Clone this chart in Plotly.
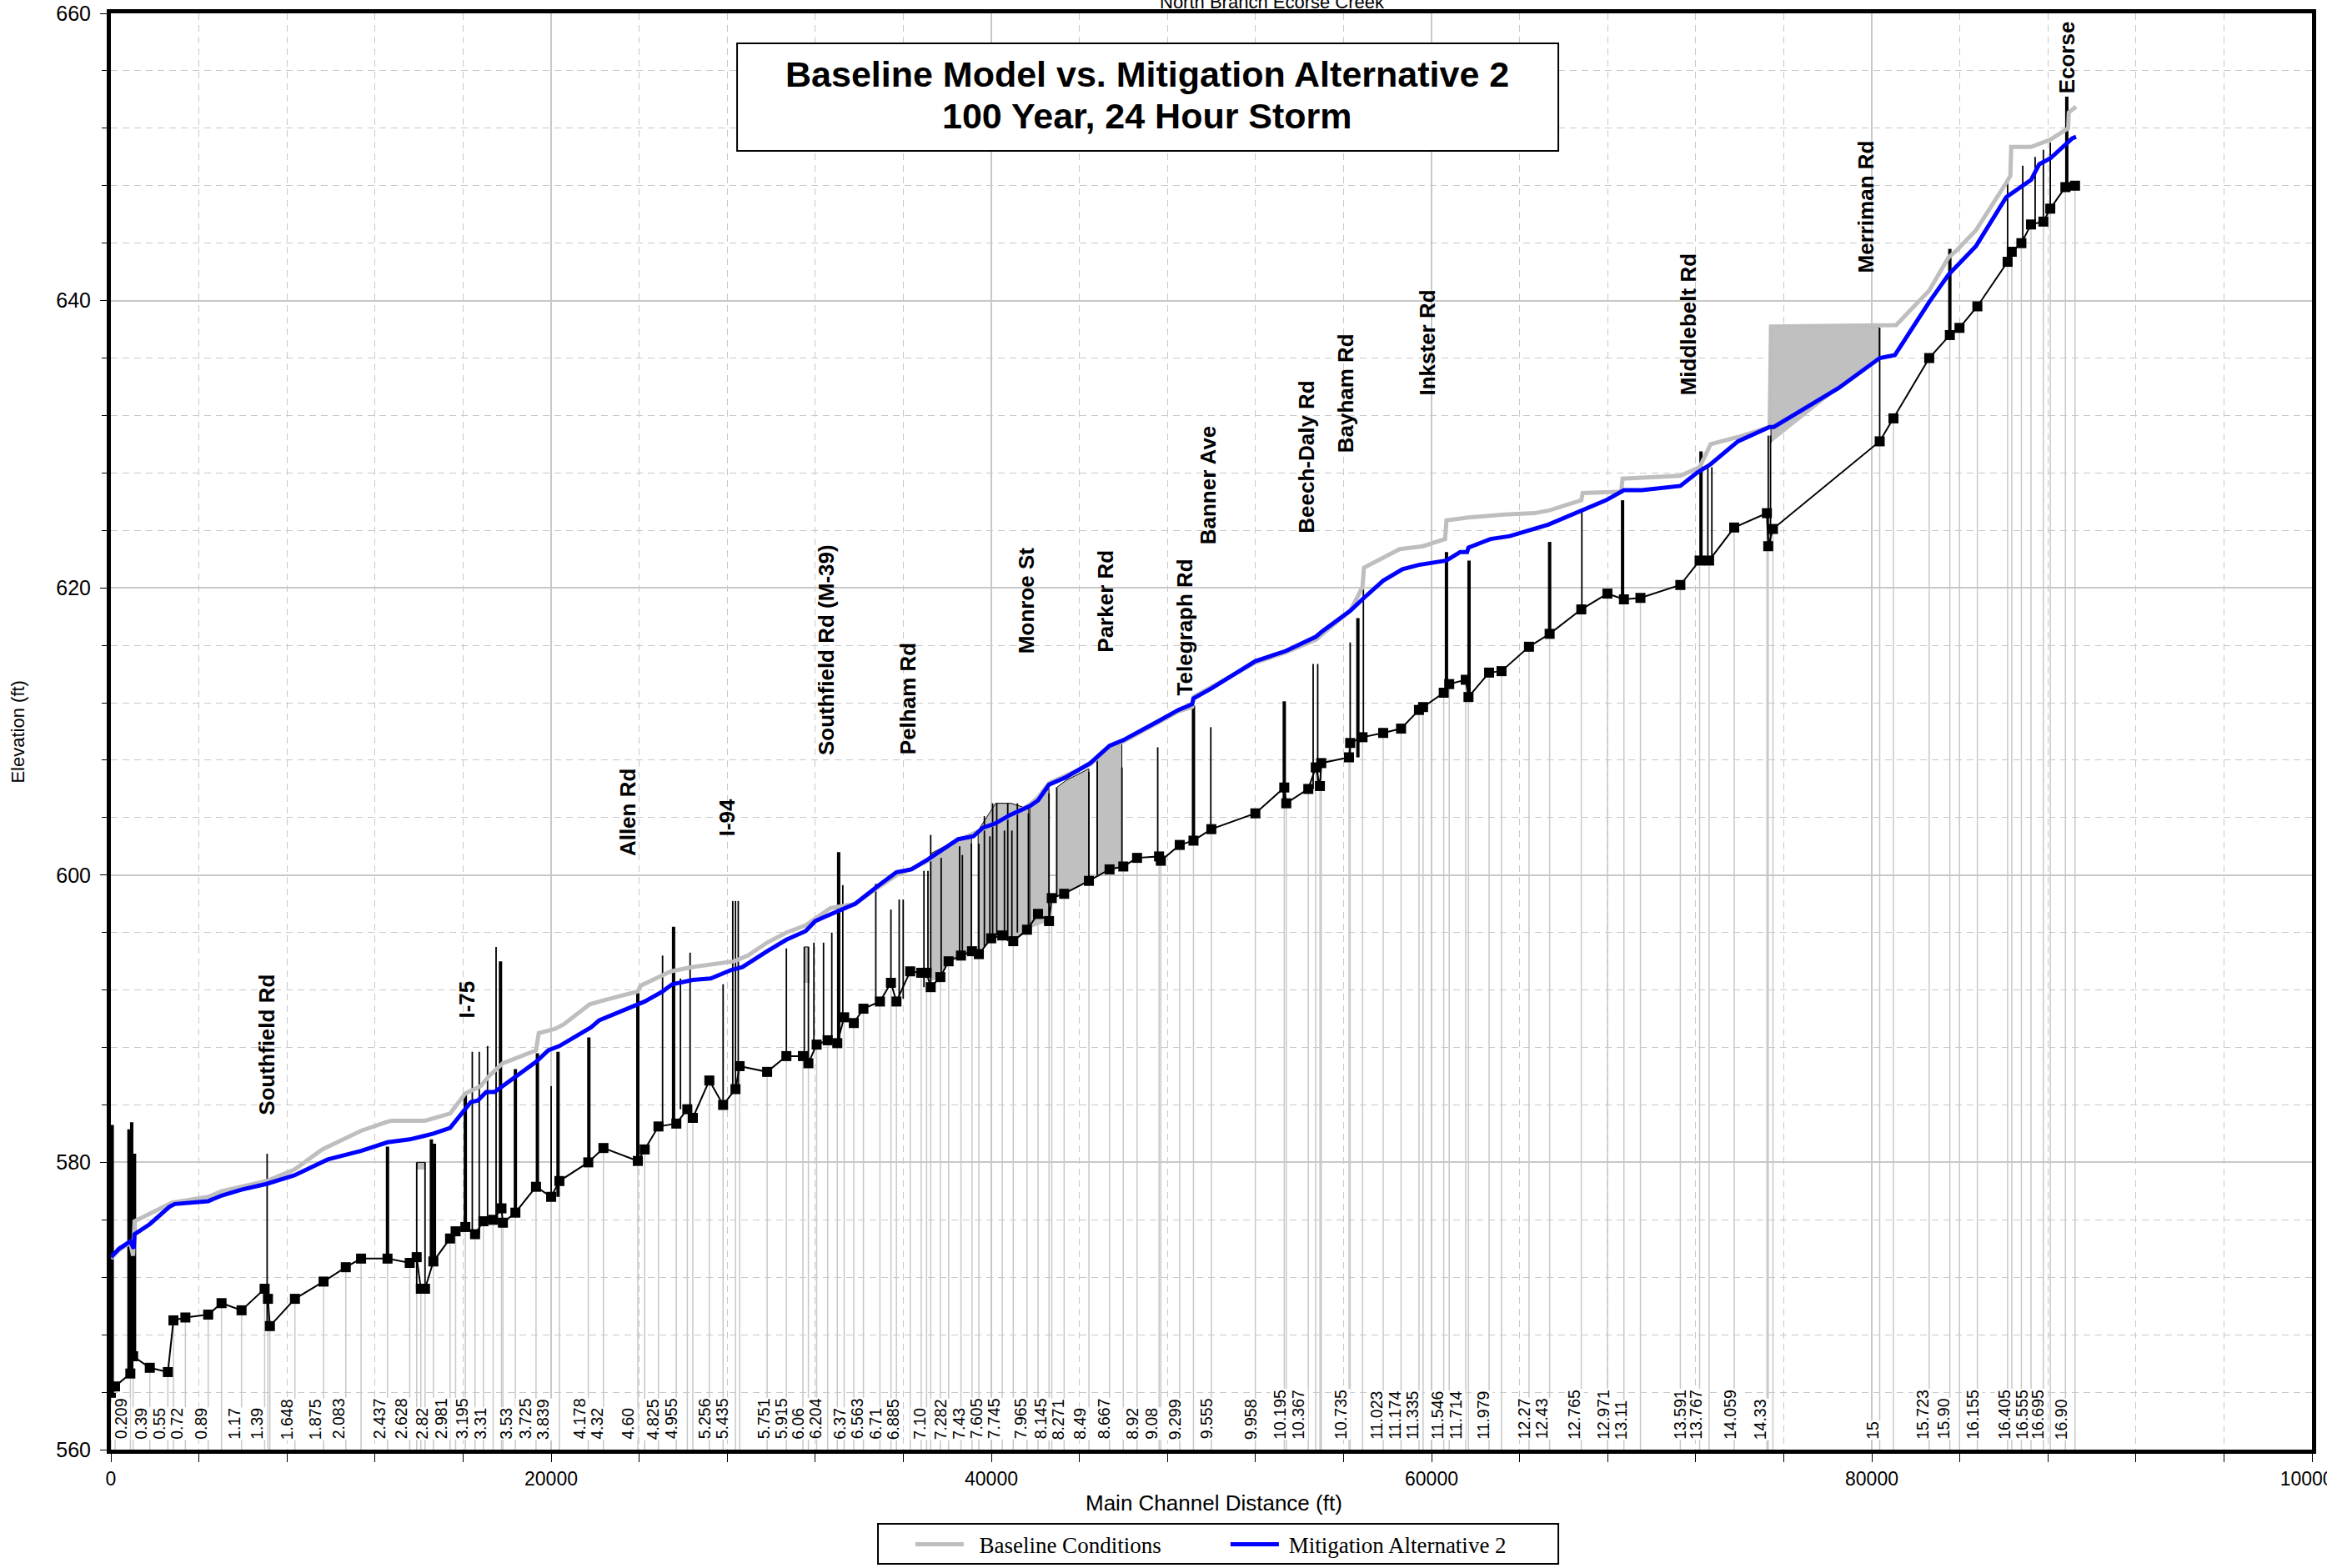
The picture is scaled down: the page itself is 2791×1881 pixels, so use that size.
import plotly.graph_objects as go

# channel invert at each cross section (ft, ft)
invert_x = [0, 190, 884, 1010, 1768, 2589, 2842, 3385, 4421, 5027, 5936, 6984, 7136, 7224, 8361, 9662,
            10672, 11367, 12567, 13577, 13893, 14082, 14272, 14651, 15409, 15661, 16103, 16545, 16924,
            17366, 17745, 17810, 18377, 19314, 20002, 20377, 21689, 22377, 23939, 24252, 24877, 25689,
            26189, 26439, 27189, 27814, 28377, 28564, 29814, 30689, 31439, 31689, 32064, 32564, 33002,
            33314, 33752, 34189, 34939, 35439, 35689, 36314, 36814, 37059, 37246, 37684, 38059, 38621,
            39121, 39434, 39996, 40496, 40996, 41621, 42121, 42621, 42746, 43309, 44434, 45371, 45996,
            46621, 47621, 47700, 48559, 49184, 49996, 51996, 53309, 53400, 54400, 54740, 54928, 54990,
            56250, 56303, 56865, 57803, 58615, 59428, 59615, 60553, 60803, 61553, 61678, 62615, 63178,
            64428, 65365, 66803, 67990, 68740, 69490, 71303, 72178, 72610, 73750, 75235, 75297, 75510,
            80360, 80985, 82610, 83547, 83985, 84797, 86172, 86360, 86797, 87235, 87797, 88110, 88797,
            89235]
invert_y = [563.6, 564.4, 565.3, 566.5, 565.7, 565.4, 569.0, 569.2, 569.4, 570.2, 569.7, 571.2, 570.5,
            568.6, 570.5, 571.7, 572.7, 573.3, 573.3, 573.0, 573.4, 571.2, 571.2, 573.1, 574.7, 575.2,
            575.5, 575.0, 575.9, 576.0, 576.8, 575.8, 576.5, 578.3, 577.6, 578.7, 580.0, 581.0, 580.1,
            580.9, 582.5, 582.7, 583.7, 583.1, 585.7, 584.0, 585.1, 586.7, 586.3, 587.4, 587.4, 586.9,
            588.2, 588.5, 588.3, 590.1, 589.7, 590.7, 591.2, 592.5, 591.2, 593.3, 593.2, 593.2, 592.2,
            592.9, 594.0, 594.4, 594.7, 594.5, 595.6, 595.8, 595.4, 596.2, 597.3, 596.8, 598.4, 598.7,
            599.6, 600.4, 600.6, 601.2, 601.3, 601.0, 602.1, 602.4, 603.2, 604.3, 606.1, 605.0, 606.0,
            607.5, 606.2, 607.8, 608.2, 609.2, 609.6, 609.9, 610.2, 611.5, 611.7, 612.7, 613.3, 613.6,
            612.4, 614.1, 614.2, 615.9, 616.8, 618.5, 619.6, 619.2, 619.3, 620.2, 621.9, 621.9, 624.2,
            625.2, 622.9, 624.1, 630.2, 631.8, 636.0, 637.6, 638.1, 639.6, 642.7, 643.4, 644.0, 645.3,
            645.5, 646.4, 647.9, 648.0]

# water surface, baseline conditions
baseline_x = [0, 380, 884, 1010, 1074, 1895, 2779, 4421, 5052, 7073, 8336, 9599, 11367, 12504, 12756,
              14272, 15409, 16103, 16798, 17177, 17808, 18314, 19314, 19439, 20189, 20564, 21752, 22439,
              23939, 24064, 25439, 26439, 27439, 28314, 28939, 29814, 30689, 31564, 32689, 33814, 34814,
              35689, 36314, 37121, 38496, 39621, 40871, 41746, 42121, 42621, 43371, 44496, 45371, 45996,
              47559, 48496, 49121, 49184, 49996, 51996, 53371, 54184, 54746, 55053, 56303, 56678, 56865,
              56928, 58553, 59615, 60615, 60678, 61678, 63303, 64678, 65365, 66803, 66865, 68615, 68678,
              71303, 72178, 72553, 72678, 73922, 75360, 75422, 81110, 82610, 83485, 83860, 84735, 86110,
              86297, 86335, 87235, 88110, 88922, 88950, 89282]
baseline_y = [573.3, 573.9, 574.4, 573.5, 575.9, 576.5, 577.2, 577.6, 578.0, 578.7, 579.5, 580.9, 582.2,
              582.8, 582.9, 582.9, 583.4, 584.8, 585.3, 586.0, 586.9, 587.2, 587.8, 589.0, 589.3, 589.6,
              591.0, 591.3, 591.9, 592.3, 593.3, 593.6, 593.8, 594.0, 594.4, 595.3, 596.0, 596.5, 597.7,
              598.0, 599.1, 600.0, 600.4, 601.0, 602.4, 603.2, 604.1, 604.9, 605.4, 606.4, 606.9, 607.7,
              608.9, 609.3, 610.6, 611.4, 611.7, 612.4, 613.1, 614.8, 615.5, 616.0, 616.4, 616.8, 618.4,
              619.5, 620.1, 621.4, 622.7, 622.9, 623.4, 624.7, 624.9, 625.1, 625.2, 625.4, 626.1, 626.6,
              626.7, 627.6, 627.8, 628.4, 629.5, 630.0, 630.5, 631.2, 638.2, 638.3, 640.7, 643.0, 643.5,
              644.9, 648.2, 648.7, 650.7, 650.7, 651.2, 652.0, 653.1, 653.5]

# water surface, mitigation alternative 2
mitigation_x = [0, 379, 884, 1036, 1074, 1768, 2652, 2905, 4421, 5052, 5936, 7073, 8336, 9851, 11367,
                12567, 13577, 14651, 15409, 16356, 16672, 17050, 17429, 18314, 19314, 19877, 20377, 21814,
                22189, 23939, 24252, 25064, 25502, 26439, 27252, 28189, 28689, 29814, 30689, 31564, 32002,
                32439, 32939, 33814, 34814, 35189, 35689, 36371, 37121, 38496, 39184, 39621, 40184, 40871,
                41746, 42121, 42621, 43371, 44496, 45371, 45996, 47559, 48496, 49121, 49184, 49996, 51996,
                53371, 54184, 54746, 55053, 56303, 56928, 57803, 58678, 59428, 60678, 61303, 61616, 61678,
                62678, 63553, 65303, 66865, 67928, 68740, 69553, 71303, 72053, 72672, 73922, 75360, 75547,
                78485, 80360, 81047, 82610, 83485, 84735, 86110, 86860, 87235, 87610, 88110, 89110, 89282]
mitigation_y = [573.4, 574.0, 574.5, 574.0, 575.0, 575.7, 576.9, 577.1, 577.3, 577.7, 578.1, 578.5, 579.1,
                580.2, 580.8, 581.4, 581.6, 582.0, 582.4, 584.2, 584.3, 584.9, 584.9, 585.9, 587.0, 587.8,
                588.1, 589.4, 589.9, 591.0, 591.2, 591.9, 592.4, 592.7, 592.8, 593.4, 593.6, 594.7, 595.5,
                596.1, 596.8, 597.1, 597.4, 598.0, 599.2, 599.6, 600.2, 600.4, 601.1, 602.5, 602.7, 603.3,
                603.6, 604.2, 604.8, 605.2, 606.3, 606.8, 607.8, 609.0, 609.4, 610.7, 611.5, 611.9, 612.3,
                613.0, 614.9, 615.6, 616.2, 616.6, 617.0, 618.4, 619.3, 620.5, 621.3, 621.6, 621.9, 622.5,
                622.5, 622.8, 623.4, 623.6, 624.4, 625.4, 626.1, 626.8, 626.8, 627.1, 628.0, 628.6, 630.2,
                631.2, 631.2, 633.9, 636.0, 636.2, 639.9, 641.8, 643.8, 647.2, 648.0, 648.4, 649.5, 649.9,
                651.3, 651.4]

# bridge / culvert structures: station, low and high elevation
bridge_thick_x = [60, 821, 946, 1074, 12567, 14560, 14700, 16103, 17700, 18377, 19377, 20314, 21714,
                  23939, 25564, 33064, 49184, 53309, 56653, 60678, 61703, 65365, 68678, 72240, 83547, 88860]
bridge_thick_bot = [563.6, 565.3, 565.3, 566.5, 573.3, 573.1, 573.1, 575.5, 576.8, 576.5, 578.3, 577.6,
                    580.0, 580.1, 582.7, 588.3, 602.4, 605.0, 608.2, 612.7, 612.4, 616.8, 619.2, 621.9,
                    637.6, 647.9]
bridge_thick_top = [582.6, 582.3, 582.8, 580.6, 581.1, 581.6, 581.3, 584.8, 594.0, 586.5, 587.6, 587.7,
                    588.7, 591.9, 596.4, 601.6, 611.8, 612.1, 617.9, 622.5, 621.9, 623.2, 626.1, 629.5,
                    643.6, 654.2]
bridge_thin_x = [7098, 13893, 14272, 16419, 16735, 17113, 17500, 20002, 25064, 25877, 26314, 27814, 28252,
                 28377, 28502, 30689, 31502, 31689, 31939, 32377, 32752, 33252, 34752, 35439, 35814, 35996,
                 36939, 37121, 37246, 37721, 38559, 38684, 39096, 39434, 39684, 39934, 40059, 40246, 40596,
                 40746, 40934, 41184, 41684, 42621, 42971, 44434, 44809, 45934, 47559, 49971, 54621, 54828,
                 56303, 56903, 66828, 72553, 72735, 75297, 75400, 80360, 86172, 86860, 87422, 87797, 88110]
bridge_thin_bot = [568.6, 571.2, 571.2, 575.0, 575.0, 575.9, 576.0, 577.6, 582.5, 583.7, 583.1, 584.0,
                   585.1, 585.1, 585.1, 587.4, 587.4, 586.9, 588.2, 588.5, 588.3, 590.1, 591.2, 592.5,
                   591.2, 591.4, 592.2, 593.2, 592.2, 592.9, 594.4, 594.4, 594.7, 594.5, 595.0, 595.6,
                   595.6, 595.8, 595.8, 595.4, 595.4, 596.0, 596.2, 596.8, 598.5, 599.6, 600.0, 600.6,
                   601.3, 603.2, 606.0, 606.2, 608.2, 609.6, 618.5, 621.6, 621.9, 622.9, 622.9, 630.2,
                   642.7, 644.0, 645.3, 645.5, 646.4]
bridge_thin_top = [580.6, 580.0, 580.0, 587.7, 587.7, 588.1, 595.0, 585.3, 594.4, 592.8, 594.6, 592.4,
                   598.2, 598.2, 598.2, 594.9, 595.0, 595.0, 595.3, 595.3, 596.0, 599.3, 599.4, 597.6,
                   598.3, 598.3, 600.3, 600.3, 602.8, 601.2, 602.0, 601.4, 602.2, 602.2, 604.1, 602.7,
                   605.0, 605.0, 603.1, 605.0, 603.1, 605.0, 604.3, 605.7, 606.1, 607.2, 608.2, 607.5,
                   608.9, 610.3, 614.7, 614.7, 616.2, 619.9, 625.3, 628.5, 628.4, 630.6, 630.6, 638.1,
                   648.2, 649.4, 650.0, 650.5, 651.0]

# shaded (ineffective flow) areas
shade_x = [
    [37250, 37250, 38500, 39100, 39100, 38620, 38060, 37680],
    [39400, 39400, 40200, 40900, 41700, 41700, 41000, 40500, 40000],
    [41750, 41750, 42620, 42620],
    [42970, 42970, 43400, 44430, 44430, 43310],
    [44810, 44810, 45400, 45930, 45930, 45370],
    [31500, 31500, 31700, 31700],
    [13900, 13900, 14270, 14270],
    [75420, 75420, 80340, 80340],
]
shade_y = [
    [592.6, 601.5, 602.5, 602.7, 594.6, 594.4, 594.0, 592.9],
    [594.6, 603.1, 605.0, 605.0, 604.6, 596.2, 595.4, 595.8, 595.6],
    [596.3, 605.0, 606.0, 596.8],
    [598.5, 606.1, 606.6, 607.4, 599.6, 598.7],
    [600.0, 608.3, 608.9, 609.3, 600.6, 600.4],
    [592.5, 595.0, 595.0, 592.5],
    [579.5, 580.0, 580.0, 579.5],
    [630.1, 638.2, 638.2, 636.1],
]

# river station labels along the bottom
station_x = [455, 1364, 2197, 2992, 4091, 5606, 6629, 7992, 9280, 10341, 12197, 13182, 14129, 15000,
             15947, 16780, 17955, 18826, 19621, 21288, 22083, 23485, 24621, 25455, 26970, 27765, 29659,
             30455, 31212, 32008, 33106, 33902, 34735, 35530, 36742, 37689, 38523, 39318, 40114, 41326,
             42235, 43030, 44015, 45114, 46402, 47273, 48333, 49773, 51780, 53106, 53939, 55871, 57500,
             58333, 59129, 60265, 61098, 62348, 64205, 65000, 66477, 67803, 68598, 71288, 72008, 73561,
             74924, 80038, 82311, 83258, 84583, 86023, 86818, 87538, 88598]
station_labels = ["0.209", "0.39", "0.55", "0.72", "0.89", "1.17", "1.39", "1.648", "1.875", "2.083",
                  "2.437", "2.628", "2.82", "2.981", "3.195", "3.31", "3.53", "3.725", "3.839", "4.178",
                  "4.32", "4.60", "4.825", "4.955", "5.256", "5.435", "5.751", "5.915", "6.06", "6.204",
                  "6.37", "6.563", "6.71", "6.885", "7.10", "7.282", "7.43", "7.605", "7.745", "7.965",
                  "8.145", "8.271", "8.49", "8.667", "8.92", "9.08", "9.299", "9.555", "9.958", "10.195",
                  "10.367", "10.735", "11.023", "11.174", "11.335", "11.546", "11.714", "11.979", "12.27",
                  "12.43", "12.765", "12.971", "13.11", "13.591", "13.767", "14.059", "14.33", "15",
                  "15.723", "15.90", "16.155", "16.405", "16.555", "16.695", "16.90"]

# road crossings
road_names = ["Southfield Rd", "I-75", "Allen Rd", "I-94", "Southfield Rd (M-39)", "Pelham Rd",
              "Monroe St", "Parker Rd", "Telegraph Rd", "Banner Ave", "Beech-Daly Rd", "Bayham Rd",
              "Inkster Rd", "Middlebelt Rd", "Merriman Rd", "Ecorse"]
road_x = [7080, 16184, 23466, 27984, 32503, 36190, 41570, 45180, 48800, 49831, 54330, 56130, 59810,
          71678, 79750, 88850]
road_y = [583.2, 589.9, 601.2, 602.6, 608.2, 608.3, 615.3, 615.4, 612.4, 622.9, 623.7, 629.3, 633.3,
          633.3, 641.8, 654.3]

SANS = "Arial, Liberation Sans, sans-serif"
SERIF = "Times New Roman, Liberation Serif, serif"
GRID = "#c8c8c8"

fig = go.Figure()

# cross section station lines
sx, sy = [], []
for x, y in zip(invert_x, invert_y):
    sx += [x, x, None]
    sy += [560, y, None]
fig.add_trace(go.Scatter(x=sx, y=sy, mode="lines", line=dict(color=GRID, width=1.5),
                         showlegend=False, hoverinfo="skip"))

# shaded areas
for xs, ys in zip(shade_x, shade_y):
    fig.add_trace(go.Scatter(x=xs, y=ys, mode="lines", fill="toself", fillcolor="#c0c0c0",
                             line=dict(color="black", width=1), showlegend=False, hoverinfo="skip"))

# bridges
for bx, bb, bt, w in [(bridge_thin_x, bridge_thin_bot, bridge_thin_top, 1.8),
                      (bridge_thick_x, bridge_thick_bot, bridge_thick_top, 4)]:
    lx, ly = [], []
    for x, b, t in zip(bx, bb, bt):
        lx += [x, x, None]
        ly += [b, t, None]
    fig.add_trace(go.Scatter(x=lx, y=ly, mode="lines", line=dict(color="black", width=w),
                             showlegend=False, hoverinfo="skip"))

# channel invert
fig.add_trace(go.Scatter(x=invert_x, y=invert_y, mode="lines+markers",
                         line=dict(color="black", width=2),
                         marker=dict(symbol="square", size=12, color="black"),
                         showlegend=False))

fig.add_trace(go.Scatter(x=baseline_x, y=baseline_y, mode="lines",
                         name="&nbsp;&nbsp;Baseline Conditions",
                         line=dict(color="#bebebe", width=5)))
fig.add_trace(go.Scatter(x=mitigation_x, y=mitigation_y, mode="lines",
                         name="&nbsp;Mitigation Alternative 2",
                         line=dict(color="#0000ff", width=5)))

annotations = []
for lab, x in zip(station_labels, station_x):
    annotations.append(dict(x=x, y=560.65, xref="x", yref="y", text=lab, showarrow=False,
                            textangle=-90, xanchor="center", yanchor="bottom",
                            font=dict(family=SANS, size=19.5, color="black"),
                            bgcolor="white", borderpad=0))
for name, x, y in zip(road_names, road_x, road_y):
    annotations.append(dict(x=x, y=y, xref="x", yref="y", text=name, showarrow=False,
                            textangle=-90, xanchor="center", yanchor="bottom",
                            font=dict(family=SANS, size=26, color="black", weight="bold")))

title_font = dict(family=SANS, size=43, color="black", weight="bold")
annotations += [
    dict(x=0.471, y=0.9576, xref="paper", yref="paper", showarrow=False,
         xanchor="center", yanchor="middle",
         text="Baseline Model vs. Mitigation Alternative 2", font=title_font),
    dict(x=0.471, y=0.9286, xref="paper", yref="paper", showarrow=False,
         xanchor="center", yanchor="middle",
         text="100 Year, 24 Hour Storm", font=title_font),
    dict(x=0.5277, y=1.0081, xref="paper", yref="paper", showarrow=False,
         text="North Branch Ecorse Creek", xanchor="center", yanchor="middle",
         font=dict(family=SANS, size=22, color="black")),
    dict(x=0.501, y=-0.0371, xref="paper", yref="paper", showarrow=False,
         text="Main Channel Distance (ft)", xanchor="center", yanchor="middle",
         font=dict(family=SANS, size=26, color="black")),
    dict(x=-0.0424, y=0.5, xref="paper", yref="paper", showarrow=False, textangle=-90,
         text="Elevation (ft)", xanchor="center", yanchor="middle",
         font=dict(family=SANS, size=22, color="black")),
]

fig.update_layout(
    width=2791, height=1881,
    margin=dict(l=133, r=18, t=16, b=142, autoexpand=False),
    paper_bgcolor="white", plot_bgcolor="white",
    annotations=annotations,
    shapes=[
        # title box
        dict(type="rect", xref="paper", yref="paper", x0=0.2845, x1=0.6576, y0=0.9042, y1=0.9791,
             line=dict(color="black", width=2), fillcolor="white", layer="above"),
        # legend frame
        dict(type="rect", xref="paper", yref="paper", x0=0.3485, x1=0.6576, y0=-0.0795, y1=-0.0517,
             line=dict(color="black", width=2), fillcolor="rgba(0,0,0,0)", layer="above"),
    ],
    legend=dict(orientation="h", x=0.3636, xanchor="left", y=-0.0662, yanchor="middle",
                borderwidth=0, bgcolor="rgba(0,0,0,0)",
                font=dict(family=SERIF, size=27, color="black"),
                itemwidth=58, entrywidth=305, traceorder="normal"),
)

fig.update_xaxes(range=[0, 100000], dtick=20000, tickformat="d", showgrid=True, gridcolor=GRID,
                 gridwidth=1.5, zeroline=False, showline=True, linecolor="black", linewidth=5,
                 mirror=True, ticks="outside", ticklen=10, tickcolor="black", automargin=False,
                 ticklabeloverflow="allow",
                 tickfont=dict(family=SANS, size=23, color="black"),
                 minor=dict(dtick=4000, showgrid=True, gridcolor=GRID, griddash="8px,6px",
                            gridwidth=1.2, ticks="outside", ticklen=10, tickcolor="black"))
fig.update_yaxes(range=[560, 660], dtick=20, showgrid=True, gridcolor=GRID, gridwidth=1.5,
                 zeroline=False, showline=True, linecolor="black", linewidth=5, mirror=True,
                 ticks="outside", ticklen=8, tickcolor="black", automargin=False,
                 ticklabeloverflow="allow", ticklabelstandoff=6,
                 tickfont=dict(family=SANS, size=25, color="black"),
                 minor=dict(dtick=4, showgrid=True, gridcolor=GRID, griddash="8px,6px",
                            gridwidth=1.2, ticks="outside", ticklen=6, tickcolor="black"))

# drop the default page margin so the figure sits at the window's top-left corner
fig.write_html("out.html", config={"displayModeBar": False},
               post_script="document.body.style.margin = '0';")
